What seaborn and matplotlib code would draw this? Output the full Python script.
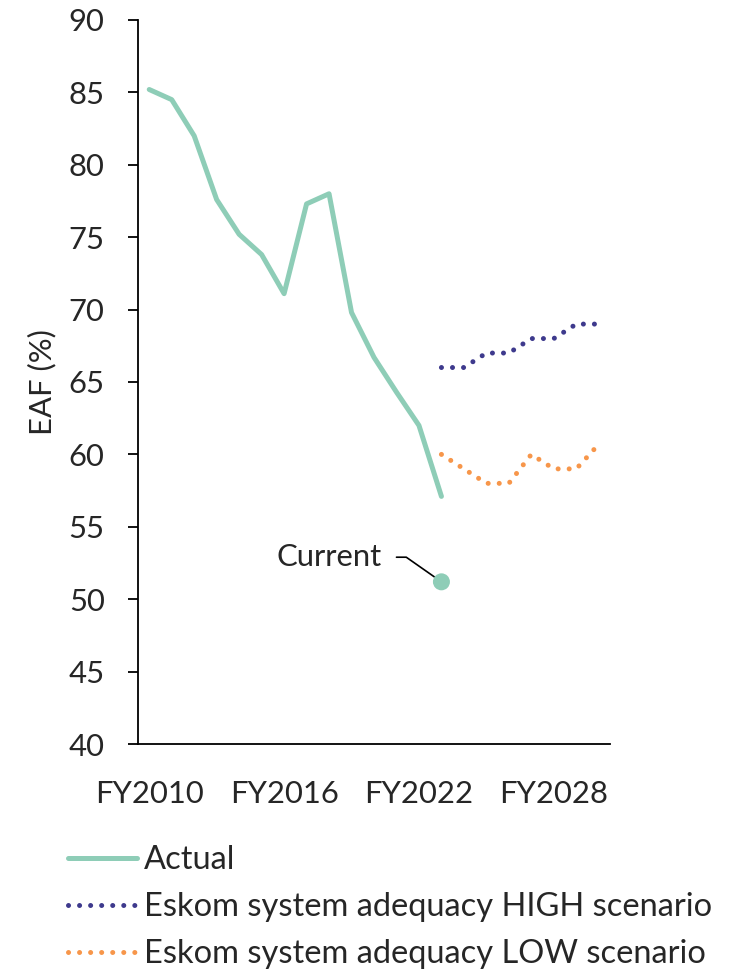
import matplotlib
matplotlib.use("Agg")
import matplotlib.pyplot as plt
import seaborn as sns
import pandas as pd

# ---- data ----
actual_years = list(range(2010, 2024))
actual_values = [85.2, 84.5, 82.0, 77.6, 75.2, 73.8, 71.1, 77.3, 78.0, 69.8, 66.7, 64.3, 62.0, 57.1]
scenario_years = list(range(2023, 2031))
high_values = [66, 66, 67, 67, 68, 68, 69, 69]
low_values = [60, 59, 58, 58, 60, 59, 59, 60.7]
current_year = 2023
current_value = 51.2
tick_years = [2010, 2016, 2022, 2028]
tick_labels = ["FY2010", "FY2016", "FY2022", "FY2028"]
series_names = ["Actual", "Eskom system adequacy HIGH scenario", "Eskom system adequacy LOW scenario"]

C_ACT = "#8ECDB7"
C_HIGH = "#3E3A8D"
C_LOW = "#F7964A"

sns.set_style("white")
plt.rcParams["font.family"] = ["Lato", "DejaVu Sans"]
FS = 22.3
FS_LEG = 23.5

fig = plt.figure(figsize=(7.43, 9.72), dpi=100)
ax = fig.add_axes([138/743, 1-744/972, (610-138)/743, (744-20)/972])

df_act = pd.DataFrame({"year": actual_years, "v": actual_values})
df_hi = pd.DataFrame({"year": scenario_years, "v": high_values})
df_lo = pd.DataFrame({"year": scenario_years, "v": low_values})

LW = 3.6
sns.lineplot(data=df_act, x="year", y="v", ax=ax, color=C_ACT, linewidth=LW,
             solid_capstyle="round", label=series_names[0])
sns.lineplot(data=df_hi, x="year", y="v", ax=ax, color=C_HIGH, linewidth=LW,
             linestyle=(0, (0.01, 2.2)), dash_capstyle="round", label=series_names[1])
sns.lineplot(data=df_lo, x="year", y="v", ax=ax, color=C_LOW, linewidth=LW,
             linestyle=(0, (0.01, 2.2)), dash_capstyle="round", label=series_names[2])
sns.scatterplot(x=[current_year], y=[current_value], ax=ax, color=C_ACT, s=150,
                edgecolor="none", zorder=5)

ax.annotate("Current", xy=(current_year, current_value),
            xytext=(2020.36, 52.9), textcoords="data",
            ha="right", va="center", fontsize=FS,
            arrowprops=dict(arrowstyle="-", color="black", lw=1.2,
                            connectionstyle="angle,angleA=0,angleB=145,rad=0",
                            shrinkA=8, shrinkB=0))

ax.set_xlim(2009.5, 2030.5)
ax.set_ylim(40, 90)
ax.set_yticks(range(40, 91, 5))
ax.set_xticks(tick_years)
ax.set_xticklabels(tick_labels)
ax.set_xlabel("")
ax.set_ylabel("EAF (%)", fontsize=FS, labelpad=9)

for s in ["top", "right"]:
    ax.spines[s].set_visible(False)
for s in ["left", "bottom"]:
    ax.spines[s].set_color("black")
    ax.spines[s].set_linewidth(1.3)

ax.tick_params(axis="y", length=7, width=1.3, color="black", pad=17, labelsize=FS, direction="out", left=True)
ax.tick_params(axis="x", length=0, pad=26, labelsize=FS)

handles, labels = ax.get_legend_handles_labels()
ax.legend(handles[:3], labels[:3], loc="upper left", bbox_to_anchor=(68/743, 1-845/972),
          bbox_transform=fig.transFigure, frameon=False, fontsize=FS_LEG,
          handlelength=2.1, handletextpad=0.22, labelspacing=0.52, borderpad=0, borderaxespad=0)

fig.savefig("out.png", dpi=100)
